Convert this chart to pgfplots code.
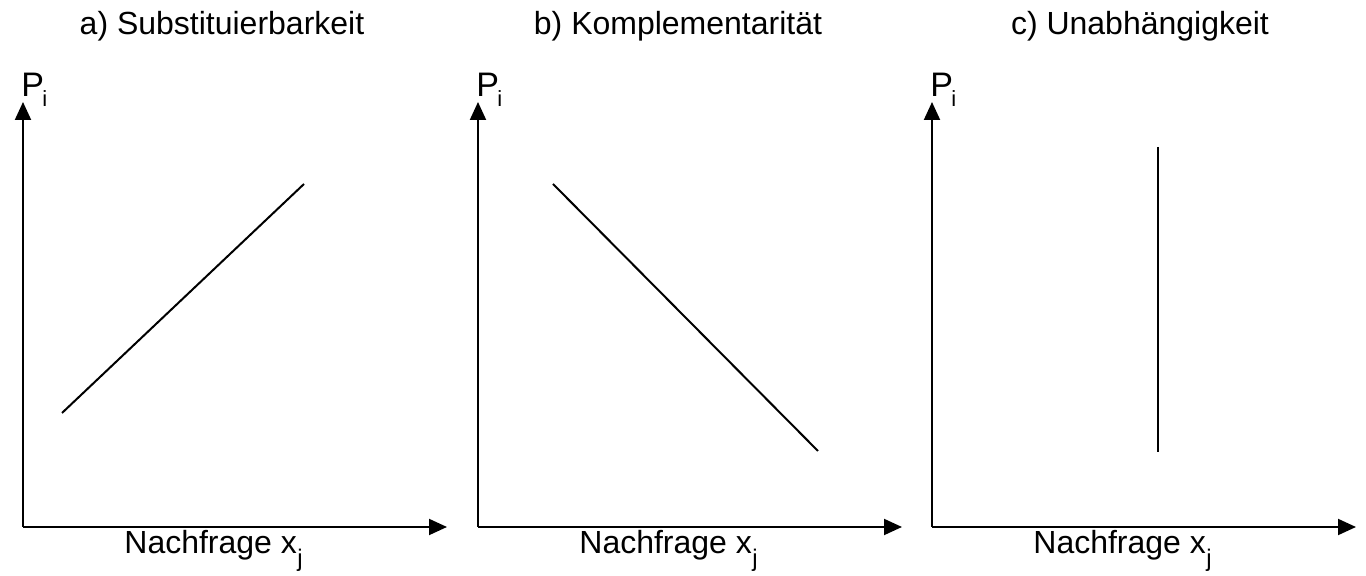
\documentclass[border=0pt]{standalone}
\usepackage{pgfplots}
\pgfplotsset{compat=1.18}
\usetikzlibrary{arrows.meta}
\usepackage{fontspec}
\setmainfont{Liberation Sans}
\pgfplotsset{
  panel/.style={
    scale only axis, width=212pt, height=212.5pt,
    xmin=0, xmax=424, ymin=0, ymax=425,
    axis lines=left, xtick=\empty, ytick=\empty,
    axis line style={line width=1pt, -{Triangle[width=8pt,length=9pt]}},
    clip=false, anchor=south west,
  },
}
\newcommand{\lbl}{\fontsize{16}{19}\selectfont}
\newcommand{\plbl}{\fontsize{17}{20}\selectfont}
\newcommand{\sub}{\fontsize{11}{13}\selectfont}
\newcommand{\subj}{\fontsize{12}{14}\selectfont}
\begin{document}
\begin{tikzpicture}
\useasboundingbox (0,0) rectangle (683pt,288pt);
% a
\begin{axis}[panel, at={(11.5pt,24.5pt)}]
\addplot[black, line width=1pt] coordinates {(39,114) (281,343)};
\node[anchor=base] at (axis cs:199,492) {\lbl a) Substituierbarkeit};
\node[anchor=base west, inner sep=0pt] at (axis cs:-2,430) {\plbl P};
\node[anchor=base west, inner sep=0pt] at (axis cs:19,420) {\sub i};
\node[anchor=base west, inner sep=0pt] at (axis cs:101,-27) {\lbl Nachfrage x};
\node[anchor=base west, inner sep=0pt] at (axis cs:274,-40) {\subj j};
\end{axis}
% b
\begin{axis}[panel, at={(239pt,24.5pt)}]
\addplot[black, line width=1pt] coordinates {(75,343) (340,76)};
\node[anchor=base] at (axis cs:200,492) {\lbl b) Komplementarität};
\node[anchor=base west, inner sep=0pt] at (axis cs:-2,430) {\plbl P};
\node[anchor=base west, inner sep=0pt] at (axis cs:19,420) {\sub i};
\node[anchor=base west, inner sep=0pt] at (axis cs:101,-27) {\lbl Nachfrage x};
\node[anchor=base west, inner sep=0pt] at (axis cs:274,-40) {\subj j};
\end{axis}
% c
\begin{axis}[panel, at={(466pt,24.5pt)}]
\addplot[black, line width=1pt] coordinates {(226,380) (226,75)};
\node[anchor=base] at (axis cs:208,492) {\lbl c) Unabhängigkeit};
\node[anchor=base west, inner sep=0pt] at (axis cs:-2,430) {\plbl P};
\node[anchor=base west, inner sep=0pt] at (axis cs:19,420) {\sub i};
\node[anchor=base west, inner sep=0pt] at (axis cs:101,-27) {\lbl Nachfrage x};
\node[anchor=base west, inner sep=0pt] at (axis cs:274,-40) {\subj j};
\end{axis}
\end{tikzpicture}
\end{document}
